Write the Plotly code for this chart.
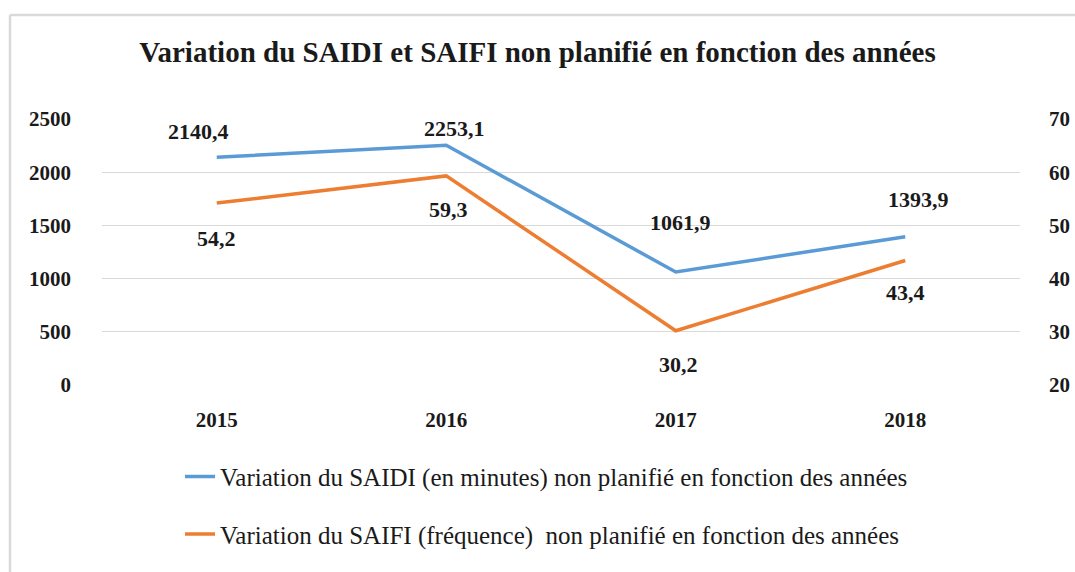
import plotly.graph_objects as go

years = ["2015", "2016", "2017", "2018"]
saidi = [2140.4, 2253.1, 1061.9, 1393.9]
saifi = [54.2, 59.3, 30.2, 43.4]
saidi_name = "Variation du SAIDI (en minutes) non planifié en fonction des années"
saifi_name = "Variation du SAIFI (fréquence)  non planifié en fonction des années"
title_text = "Variation du SAIDI et SAIFI non planifié en fonction des années"

# label offsets (pixels) for the data labels
saidi_dy = [26, 17, 50, 37]
saidi_dx = [-18, 8, 5, 13]
saifi_dy = [-35, -34, -34, -32]
saifi_dx = [0, 2, 3, 0]

FONT = "Liberation Serif"
BLUE = "#5B9BD5"
ORANGE = "#ED7D31"
TXT = "#1a1a1a"

fig = go.Figure()
fig.add_trace(go.Scatter(x=years, y=saidi, mode="lines", name=saidi_name,
                         line=dict(color=BLUE, width=3.5), legendgroup="a"))
fig.add_trace(go.Scatter(x=years, y=saifi, mode="lines", name=saifi_name,
                         line=dict(color=ORANGE, width=3.5), yaxis="y2", legendgroup="b"))

def fmt(v):
    return f"{v:.1f}".replace(".", ",")

annots = []
for i, (v, dy, dx) in enumerate(zip(saidi, saidi_dy, saidi_dx)):
    annots.append(dict(x=i, y=v, xref="x", yref="y", text="<b>" + fmt(v) + "</b>",
                       showarrow=False, yshift=dy, xshift=dx,
                       font=dict(family=FONT, size=22, color=TXT)))
for i, (v, dy, dx) in enumerate(zip(saifi, saifi_dy, saifi_dx)):
    annots.append(dict(x=i, y=v, xref="x", yref="y2", text="<b>" + fmt(v) + "</b>",
                       showarrow=False, yshift=dy, xshift=dx,
                       font=dict(family=FONT, size=22, color=TXT)))

shapes = [
    dict(type="line", xref="paper", yref="paper", x0=-0.1002, x1=1.08, y0=1.391, y1=1.391,
         line=dict(color="#d9d9d9", width=2.5)),
    dict(type="line", xref="paper", yref="paper", x0=-0.1002, x1=-0.1002, y0=1.391, y1=-0.75,
         line=dict(color="#d9d9d9", width=2.5)),
]

fig.update_layout(
    width=1075, height=572,
    margin=dict(l=102, r=55, t=119, b=187, autoexpand=False),
    paper_bgcolor="white", plot_bgcolor="white",
    font=dict(family=FONT, color=TXT),
    annotations=annots,
    shapes=shapes,
    title=dict(text="<b>" + title_text + "</b>", x=0.5, xanchor="center", y=1 - 52 / 572,
               yanchor="middle", font=dict(family=FONT, size=29, color=TXT)),
    xaxis=dict(type="category", range=[-0.5, 3.5], showgrid=False, showline=False, zeroline=False,
               automargin=False,
               ticks="", ticklabelstandoff=20, tickprefix="<b>", ticksuffix="</b>",
               tickfont=dict(family=FONT, size=21, color=TXT)),
    yaxis=dict(range=[0, 2500], dtick=500, showgrid=True, gridcolor="#d9d9d9", gridwidth=1,
               zeroline=False, showline=False, ticks="", ticklabelstandoff=30, automargin=False,
               tickprefix="<b>", ticksuffix="</b>",
               tickfont=dict(family=FONT, size=21, color=TXT)),
    yaxis2=dict(range=[20, 70], dtick=10, overlaying="y", side="right", showgrid=False,
                zeroline=False, showline=False, ticks="", ticklabelstandoff=28, automargin=False,
                tickprefix="<b>", ticksuffix="</b>",
                tickfont=dict(family=FONT, size=21, color=TXT)),
    showlegend=True,
    legend=dict(orientation="v", x=0.085, xanchor="left", y=-0.258, yanchor="top",
                tracegroupgap=22, bgcolor="rgba(0,0,0,0)",
                font=dict(family=FONT, size=25, color=TXT)),
)

fig.write_html("out.html", config={"displayModeBar": False},
               post_script="document.body.style.margin='0';")
